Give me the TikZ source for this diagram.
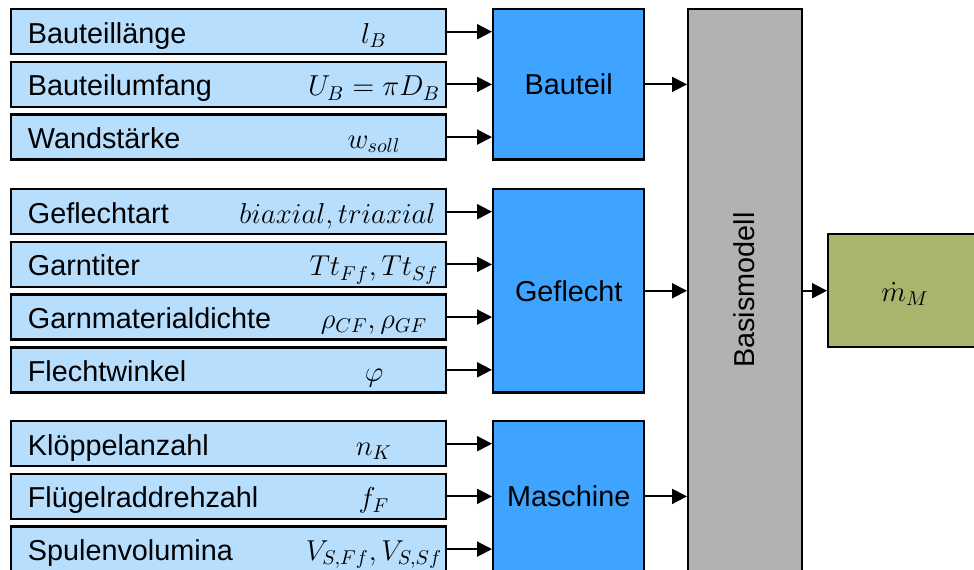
\documentclass[tikz,border=0pt]{standalone}
\usepackage[no-math]{fontspec}
\setmainfont{Liberation Sans}
\usetikzlibrary{arrows.meta}
\definecolor{infill}{RGB}{183,222,253}
\definecolor{bluefill}{RGB}{62,164,255}
\definecolor{grayfill}{RGB}{178,178,178}
\definecolor{greenfill}{RGB}{169,180,108}
\tikzset{
  boxline/.style={draw=black, line width=1.2pt, rectangle, inner sep=0pt},
  inbox/.style={boxline, fill=infill, minimum width=217.5pt, minimum height=22.5pt, anchor=north west},
  grpbox/.style={boxline, fill=bluefill, minimum width=75.5pt, anchor=north west},
  txt/.style={inner sep=0pt, font=\fontsize{14.4}{17}\selectfont},
  arr/.style={line width=1pt, -{Triangle[length=7.5pt,width=7.5pt]}},
}
\newcommand\inrow[4]{%
  \node[inbox] (#1) at (10,#2) {};
  \node[txt, anchor=base west] (#1l) at (27.5,{#2+35}) {#3};
  \node[txt, anchor=base] (#1m) at (374,{#2+35}) {$#4$};
}
\begin{document}
\begin{tikzpicture}[x=0.5pt,y=-0.5pt]
\useasboundingbox (0,0) rectangle (974,569);
% group 1
\inrow{a1}{8}{Bauteillänge}{l_B}
\inrow{a2}{60.7}{Bauteilumfang}{U_B=\pi D_B}
\inrow{a3}{113.4}{Wandstärke}{w_{soll}}
% group 2
\node[inbox] (b1) at (10,188) {};
\node[txt, anchor=base west] (b1l) at (27.5,223) {Geflechtart};
\node[txt, anchor=base east] (b1m) at (436,223) {$biaxial, triaxial$};
\inrow{b2}{240.7}{Garntiter}{Tt_{Ff}, Tt_{Sf}}
\inrow{b3}{293.4}{Garnmaterialdichte}{\rho_{CF}, \rho_{GF}}
\inrow{b4}{346.1}{Flechtwinkel}{\varphi}
% group 3
\inrow{c1}{420}{Klöppelanzahl}{n_K}
\inrow{c2}{472.7}{Flügelraddrehzahl}{f_F}
\inrow{c3}{525.4}{Spulenvolumina}{V_{S,Ff}, V_{S,Sf}}
% group boxes
\node[grpbox, minimum height=75.2pt] (bauteil) at (492,8) {};
\node[txt] (bauteilt) at (bauteil.center) {Bauteil};
\node[grpbox, minimum height=101.55pt] (geflecht) at (492,188) {};
\node[txt] (geflechtt) at (geflecht.center) {Geflecht};
\node[grpbox, minimum height=75.2pt] (maschine) at (492,420) {};
\node[txt] (maschinet) at (maschine.center) {Maschine};
% Basismodell
\node[boxline, fill=grayfill, minimum width=57pt, minimum height=282pt, anchor=north west] (basis) at (687,8) {};
\node[txt, rotate=90] (basist) at (744,290) {Basismodell};
% output
\node[boxline, fill=greenfill, minimum width=79pt, minimum height=56.5pt, anchor=north west] (out) at (827,233) {};
\node[txt, anchor=base] (outt) at (905,301) {$\dot{m}_{M}$};
% arrows
\foreach \n in {a1,a2,a3} \draw[arr] (\n.east) -- (\n.east -| bauteil.west);
\foreach \n in {b1,b2,b3,b4} \draw[arr] (\n.east) -- (\n.east -| geflecht.west);
\foreach \n in {c1,c2,c3} \draw[arr] (\n.east) -- (\n.east -| maschine.west);
\foreach \n in {bauteil,geflecht,maschine} \draw[arr] (\n.east) -- (\n.east -| basis.west);
\draw[arr] (basis.east |- out.west) -- (out.west);
\end{tikzpicture}
\end{document}
